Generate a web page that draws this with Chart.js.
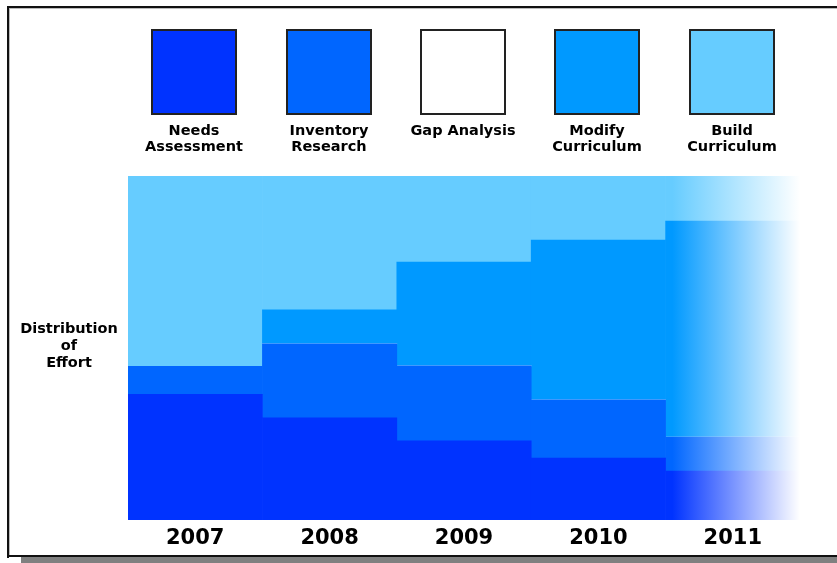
<!DOCTYPE html>
<html>
<head>
<meta charset="utf-8">
<script src="https://cdn.jsdelivr.net/npm/chart.js@4.4.1/dist/chart.umd.min.js"></script>
<style>
  html, body { margin: 0; padding: 0; background: #fff; }
  #wrap { position: relative; width: 837px; height: 563px; }
</style>
</head>
<body>
<div id="wrap"><canvas id="chart" width="837" height="563"></canvas></div>
<script>

    // data (share of effort, each year sums to 100)
    const years = ['2007', '2008', '2009', '2010', '2011'];
    const seriesNames = ['Needs Assessment', 'Inventory Research', 'Gap Analysis', 'Modify Curriculum', 'Build Curriculum'];
    const legendLines = [['Needs', 'Assessment'], ['Inventory', 'Research'], ['Gap Analysis'], ['Modify', 'Curriculum'], ['Build', 'Curriculum']];
    const needsAssessment   = [36.5, 29.7, 23, 18, 14.2];
    const inventoryResearch = [8.2, 21.5, 21.8, 16.9, 9.9];
    const gapAnalysis       = [0, 0, 0, 0, 0];
    const modifyCurriculum  = [0, 9.9, 30.2, 46.5, 62.8];
    const buildCurriculum   = [55.3, 38.9, 25, 18.6, 13.1];
    const yTitle = ['Distribution', 'of', 'Effort'];

    const seriesColors = ['#0033FF', '#0066FF', '#FFFFFF', '#0099FF', '#66CCFF'];
    const seriesValues = [needsAssessment, inventoryResearch, gapAnalysis, modifyCurriculum, buildCurriculum];

    const fontFamily = '"DejaVu Sans", Verdana, sans-serif';

    // last year fades out to white
    function fadeColor( color ) {
        return function ( ctx ) {
            let chart = ctx.chart;
            if ( ctx.dataIndex !== years.length - 1 || !chart.chartArea || !chart.scales.x ) {
                return color;
            }
            let xs = chart.scales.x;
            let half = ( xs.getPixelForValue(1) - xs.getPixelForValue(0) ) / 2;
            let mid = xs.getPixelForValue( ctx.dataIndex );
            let grad = chart.ctx.createLinearGradient( mid - half, 0, mid + half, 0 );
            grad.addColorStop( 0, color );
            grad.addColorStop( 0.05, color );
            grad.addColorStop( 1, '#FFFFFF' );
            return grad;
        };
    }

    let datasets = [];
    for ( let i = 0; i < seriesNames.length; i++ ) {
        datasets.push({
            label: seriesNames[i],
            data: seriesValues[i],
            backgroundColor: fadeColor( seriesColors[i] ),
            borderWidth: 0,
            barPercentage: 1,
            categoryPercentage: 1
        });
    }

    // picture frame with the grey shadow along the bottom
    const framePlugin = {
        id: 'frame',
        beforeDraw( chart ) {
            let c = chart.ctx;
            c.save();
            c.fillStyle = '#FFFFFF';
            c.fillRect( 0, 0, chart.width, chart.height );
            c.fillStyle = '#808080';
            c.fillRect( 21, 557, chart.width - 21, 6 );
            c.fillStyle = '#111111';
            c.fillRect( 7, 6, chart.width - 7, 2 );
            c.fillRect( 7, 6, 2, 552 );
            c.fillRect( 7, 555, chart.width - 7, 2 );
            c.fillStyle = '#BBBBBB';
            c.fillRect( 9, 8, chart.width - 9, 1 );
            c.fillRect( 9, 8, 1, 547 );
            c.restore();
        }
    };

    // legend squares over each column, and the left-hand title
    const legendPlugin = {
        id: 'boxLegend',
        afterDraw( chart ) {
            let c = chart.ctx;
            let xs = chart.scales.x;
            c.save();
            c.textAlign = 'center';
            c.textBaseline = 'middle';
            c.font = 'bold 14.5px ' + fontFamily;
            for ( let i = 0; i < seriesNames.length; i++ ) {
                let cx = Math.round( xs.getPixelForValue(i) ) - 1;
                c.fillStyle = seriesColors[i];
                c.fillRect( cx - 42, 30, 84, 84 );
                c.strokeStyle = '#222222';
                c.lineWidth = 2;
                c.strokeRect( cx - 42, 30, 84, 84 );
                c.fillStyle = '#000000';
                for ( let k = 0; k < legendLines[i].length; k++ ) {
                    c.fillText( legendLines[i][k], cx, 131 + k * 16 );
                }
            }
            for ( let k = 0; k < yTitle.length; k++ ) {
                c.fillText( yTitle[k], 69, 329 + k * 17 );
            }
            c.restore();
        }
    };

    new Chart( document.getElementById('chart'), {
        type: 'bar',
        data: { labels: years, datasets: datasets },
        plugins: [ framePlugin, legendPlugin ],
        options: {
            responsive: false,
            animation: false,
            layout: { padding: { left: 128, right: 37, top: 176, bottom: 7 } },
            plugins: {
                legend: { display: false },
                tooltip: { enabled: false }
            },
            scales: {
                x: {
                    stacked: true,
                    grid: { display: false, drawTicks: false },
                    border: { display: false },
                    ticks: {
                        color: '#000000',
                        padding: 6,
                        font: { family: fontFamily, weight: 'bold', size: 21 }
                    },
                    afterFit( scale ) { scale.height = 36; }
                },
                y: {
                    stacked: true,
                    display: false,
                    min: 0,
                    max: 100
                }
            }
        }
    });

</script>
</body>
</html>
